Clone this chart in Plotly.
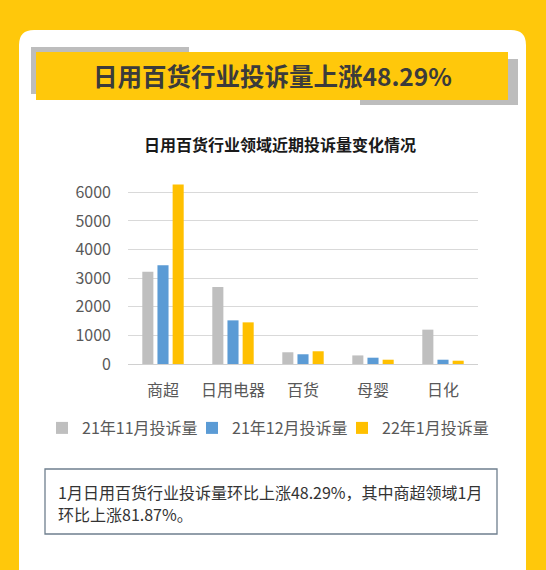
import plotly.graph_objects as go

categories = ["商超", "日用电器", "百货", "母婴", "日化"]
series_names = ["21年11月投诉量", "21年12月投诉量", "22年1月投诉量"]
nov21 = [3220, 2690, 410, 300, 1200]
dec21 = [3450, 1525, 340, 220, 150]
jan22 = [6273, 1455, 445, 150, 115]
series_values = [nov21, dec21, jan22]
series_colors = ["#BFBFBF", "#5B9BD5", "#FFC000"]
y_ticks = [0, 1000, 2000, 3000, 4000, 5000, 6000]

headline = "日用百货行业投诉量上涨48.29%"
chart_title = "日用百货行业领域近期投诉量变化情况"
note_lines = ["1月日用百货行业投诉量环比上涨48.29%，其中商超领域1月", "环比上涨81.87%。"]

W, H = 546, 570
ML, MR, MT, MB = 128, 68, 180, 206
PW = W - ML - MR
PH = H - MT - MB

def px(x):
    return (x - ML) / PW

def py(y):
    return (H - MB - y) / PH

FONT = "Noto Sans CJK SC, Noto Sans, sans-serif"
PAGE_YELLOW = "#FFC80B"

fig = go.Figure()
for name, vals, col in zip(series_names, series_values, series_colors):
    fig.add_trace(go.Bar(x=categories, y=vals, name=name, marker_color=col,
                         marker_line_width=0, hoverinfo="x+y+name"))

shapes = []
# white card with rounded top corners
r = 15
L, R, T, B = 19, 526, 30, 600
path = (f"M {px(L)},{py(B)} L {px(L)},{py(T + r)} Q {px(L)},{py(T)} {px(L + r)},{py(T)} "
        f"L {px(R - r)},{py(T)} Q {px(R)},{py(T)} {px(R)},{py(T + r)} L {px(R)},{py(B)} Z")
shapes.append(dict(type="path", xref="paper", yref="paper", path=path,
                   fillcolor="white", line_width=0, layer="below"))
# banner shadows
shapes.append(dict(type="rect", xref="paper", yref="paper", x0=px(31), x1=px(189),
                   y0=py(47), y1=py(94), fillcolor="#BDBDBD", line_width=0, layer="below"))
shapes.append(dict(type="rect", xref="paper", yref="paper", x0=px(360), x1=px(518),
                   y0=py(59), y1=py(105), fillcolor="#BDBDBD", line_width=0, layer="below"))
# banner
shapes.append(dict(type="rect", xref="paper", yref="paper", x0=px(36), x1=px(508),
                   y0=py(52), y1=py(100), fillcolor=PAGE_YELLOW, line_width=0, layer="below"))
# note box
shapes.append(dict(type="rect", xref="paper", yref="paper", x0=px(45), x1=px(497),
                   y0=py(469), y1=py(534), fillcolor="white",
                   line=dict(color="#6F7F8E", width=1.3), layer="below"))

annotations = [
    dict(text=f"<b>{headline}</b>", x=px(272), y=py(76), xref="paper", yref="paper",
         showarrow=False, xanchor="center", yanchor="middle",
         font=dict(family=FONT, size=24.5, color="#3B3B3B")),
    dict(text=f"<b>{chart_title}</b>", x=px(279.5), y=py(143.5), xref="paper", yref="paper",
         showarrow=False, xanchor="center", yanchor="middle",
         font=dict(family=FONT, size=16, color="#1A1A1A")),
]
for i, line in enumerate(note_lines):
    annotations.append(dict(text=line, x=px(56), y=py(491.5 + 22.5 * i), xref="paper", yref="paper",
                            showarrow=False, xanchor="left", yanchor="middle", align="left",
                            font=dict(family=FONT, size=16, color="#333333")))

fig.update_layout(
    width=W, height=H,
    margin=dict(l=ML, r=MR, t=MT, b=MB, pad=0),
    paper_bgcolor=PAGE_YELLOW,
    plot_bgcolor="rgba(0,0,0,0)",
    barmode="group", bargap=0.35, bargroupgap=0.27,
    shapes=shapes, annotations=annotations,
    showlegend=True,
    legend=dict(orientation="h", x=px(42), xanchor="left", y=py(428), yanchor="middle",
                font=dict(family=FONT, size=16, color="#595959"),
                entrywidth=105, entrywidthmode="pixels",
                bgcolor="rgba(0,0,0,0)", borderwidth=0, traceorder="normal"),
    font=dict(family=FONT),
)
fig.update_yaxes(range=[0, 6430], tickvals=y_ticks, showgrid=True, gridcolor="#D9D9D9",
                 gridwidth=1, zeroline=True, zerolinecolor="#D0D0D0", zerolinewidth=1,
                 showline=False, ticks="", ticklabelstandoff=16,
                 tickfont=dict(family=FONT, size=16, color="#595959"))
fig.update_xaxes(showgrid=False, showline=False, ticks="", ticklabelstandoff=15,
                 tickfont=dict(family=FONT, size=16, color="#595959"))

fig.write_html("out.html", config={"displayModeBar": False},
               post_script="document.body.style.margin='0';"
                           "document.body.style.background='#FFC80B';")
